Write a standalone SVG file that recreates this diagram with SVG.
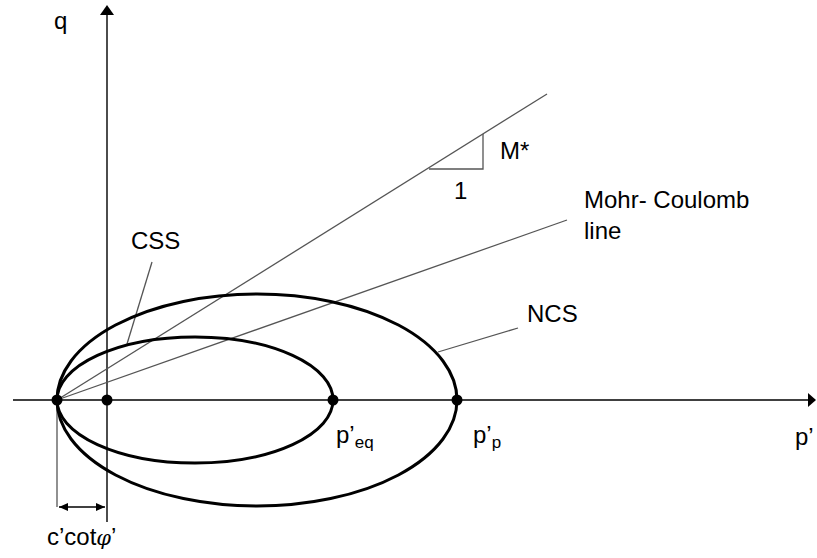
<svg xmlns="http://www.w3.org/2000/svg" width="817" height="558" viewBox="0 0 817 558">
<style>
.axis{stroke:#000;stroke-width:1.4;fill:none}
.thin{stroke:#555;stroke-width:1.3;fill:none}
.curve{stroke:#000;stroke-width:3;fill:none}
.dot{fill:#000}
text{font-family:"Liberation Sans",Arial,sans-serif;font-size:24px;fill:#000}
.sub{font-size:17px}
</style>
<defs>
<marker id="dimA" markerWidth="10" markerHeight="8" refX="9" refY="4" orient="auto-start-reverse" markerUnits="userSpaceOnUse">
<path d="M0,0 L9,4 L0,8 Z" fill="#000"/>
</marker>
</defs>
<g id="connectors">
<line class="axis" x1="13" y1="400" x2="808" y2="400"/>
<path d="M808,393 L816,400 L808,407 Z" fill="#000"/>
<line class="axis" x1="107" y1="522" x2="107" y2="15"/>
<path d="M100,15 L107,5 L114,15 Z" fill="#000"/>
<line class="thin" x1="57" y1="400" x2="547" y2="94"/>
<polyline class="thin" points="429,169 483,169 483,134"/>
<line class="thin" x1="57" y1="400" x2="567" y2="220"/>
<line class="thin" x1="152" y1="262" x2="127" y2="344"/>
<line class="thin" x1="518" y1="328" x2="438" y2="352"/>
<line class="thin" x1="57" y1="400" x2="57" y2="507"/>
<line class="axis" x1="59" y1="507" x2="105" y2="507" marker-start="url(#dimA)" marker-end="url(#dimA)"/>
</g>
<g id="CSS">
<ellipse class="curve" cx="195" cy="400" rx="138" ry="63"/>
<text x="131" y="249">CSS</text>
</g>
<g id="NCS">
<ellipse class="curve" cx="257" cy="400" rx="200" ry="106"/>
<text x="527" y="322">NCS</text>
</g>
<g id="points">
<circle class="dot" cx="57" cy="400" r="5.5"/>
<circle class="dot" cx="107" cy="400" r="5.5"/>
<circle class="dot" cx="333" cy="400" r="5.5"/>
<circle class="dot" cx="457" cy="400" r="5.5"/>
</g>
<g id="labels">
<text x="54" y="29">q</text>
<text x="500" y="159">M*</text>
<text x="454" y="199">1</text>
<text x="584" y="208">Mohr- Coulomb</text>
<text x="584" y="239">line</text>
<text x="336" y="443">p’<tspan class="sub" dy="5">eq</tspan></text>
<text x="473" y="443">p’<tspan class="sub" dy="5">p</tspan></text>
<text x="795" y="445">p’</text>
<text x="47" y="545">c’cot<tspan font-style="italic" font-family="'DejaVu Serif',serif" font-size="21">φ</tspan>’</text>
</g>
</svg>
